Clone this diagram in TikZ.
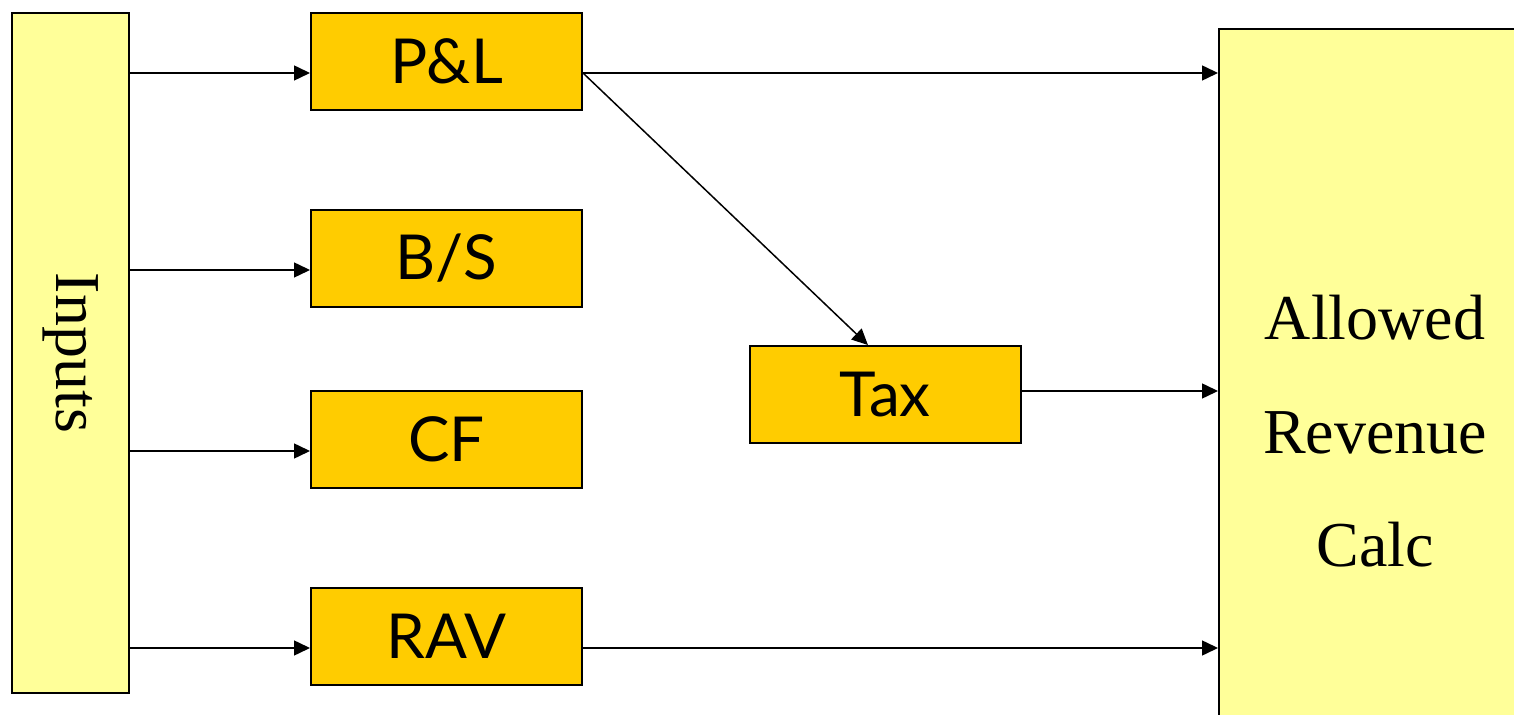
\documentclass[tikz,border=0pt]{standalone}
\usepackage{fontspec}
\setmainfont{Liberation Serif}
\newfontfamily\boxfont{Lato}
\usetikzlibrary{arrows.meta,calc}

\definecolor{paleyellow}{HTML}{FFFF99}
\definecolor{amber}{HTML}{FFCC00}

\tikzset{
  sidebox/.style={draw=black, line width=1pt, fill=paleyellow, inner sep=0pt},
  stagebox/.style={draw=black, line width=1pt, fill=amber, inner sep=0pt,
    minimum width=135.5pt, minimum height=48.5pt,
    font=\boxfont\fontsize{31}{36}\selectfont},
  flow/.style={draw=black, line width=0.75pt,
    -{Triangle[length=8pt,width=7.5pt]}},
}

\begin{document}
\begin{tikzpicture}[x=0.5pt, y=-0.5pt]
  \useasboundingbox (0,0) rectangle (1514,715);
  \clip (0,0) rectangle (1514,715);

  % input column on the left
  \node[sidebox, minimum width=58.5pt, minimum height=340pt] (inputs) at (70.5,353) {};
  \node[rotate=-90, font=\fontsize{32}{38}\selectfont] (inputslabel) at (inputs.center) {Inputs};

  % intermediate statements
  \node[stagebox] (pl)  at (446.5,61.5)  {P\&L};
  \node[stagebox] (bs)  at (446.5,258.5) {B/S};
  \node[stagebox] (cf)  at (446.5,439.5) {CF};
  \node[stagebox] (rav) at (446.5,636.5) {RAV};
  \node[stagebox] (tax) at (885,394.5)   {Tax};

  % output block, running off the right and bottom edges
  \node[sidebox, anchor=north west, minimum width=160pt, minimum height=420pt] (arc) at (1218,28) {};
  \node[align=center, font=\fontsize{32}{56.75}\selectfont] (arclabel) at (1375,431.5)
    {Allowed\\Revenue\\Calc};

  % connector heights on each box
  \coordinate (pl-in)   at ([yshift=-5.75pt]pl.west);
  \coordinate (bs-in)   at ([yshift=-5.75pt]bs.west);
  \coordinate (cf-in)   at ([yshift=-5.75pt]cf.west);
  \coordinate (rav-in)  at ([yshift=-5.75pt]rav.west);
  \coordinate (pl-out)  at ([yshift=-5.75pt]pl.east);
  \coordinate (rav-out) at ([yshift=-5.75pt]rav.east);
  \coordinate (tax-out) at ([yshift=1.75pt]tax.east);
  \coordinate (tax-in)  at ($(tax.north west)!0.4375!(tax.north east)$);

  % inputs feed every statement
  \draw[flow] (pl-in -| inputs.east)  -- (pl-in);
  \draw[flow] (bs-in -| inputs.east)  -- (bs-in);
  \draw[flow] (cf-in -| inputs.east)  -- (cf-in);
  \draw[flow] (rav-in -| inputs.east) -- (rav-in);

  % statements feed the revenue calculation
  \draw[flow] (pl-out)  -- (pl-out -| arc.west);
  \draw[flow] (pl-out)  -- (tax-in);
  \draw[flow] (tax-out) -- (tax-out -| arc.west);
  \draw[flow] (rav-out) -- (rav-out -| arc.west);
\end{tikzpicture}
\end{document}
